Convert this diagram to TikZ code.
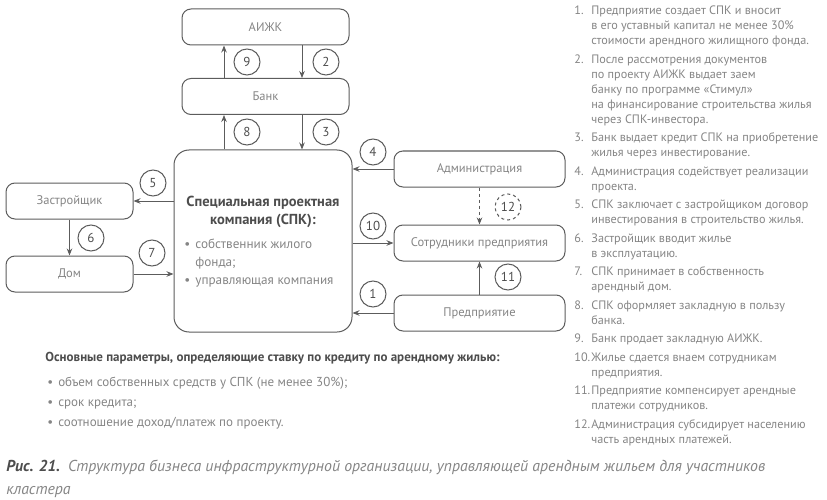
\documentclass[tikz,border=0pt]{standalone}
\usepackage{fontspec}
\setmainfont{PT Sans}
\usepackage{xcolor}
\usetikzlibrary{arrows.meta}

\definecolor{linegray}{HTML}{5C5C5C}
\definecolor{textgray}{HTML}{858585}
\definecolor{darkgray}{HTML}{4D4D4D}

\begin{document}
\begin{tikzpicture}[x=1pt,y=-1pt,->,>={Stealth[length=7pt,width=5.5pt]},
            line width=0.8pt,draw=linegray]
        \tikzstyle{entity}=[draw=linegray,line width=1pt,rounded corners=9pt,
            minimum width=167pt,minimum height=36pt,inner sep=0pt,
            text=textgray,font=\fontsize{12.5}{14}\selectfont]
        \tikzstyle{numcirc}=[draw=linegray,line width=1pt,circle,minimum size=26pt,
            inner sep=0pt,text=darkgray,font=\fontsize{13}{14}\selectfont]
        \tikzstyle{listtext}=[inner sep=0pt,text=textgray,
            font=\fontsize{12.2}{15}\selectfont]

        \useasboundingbox (0,0) rectangle (827,500);

        % boxes
        \node[entity] (aijk) at (265.5,27) {АИЖК};
        \node[entity] (bank) at (265.5,96.5) {Банк};
        \node[entity,minimum width=178pt,minimum height=182pt,rounded corners=15pt]
            (spk) at (263,241) {};
        \node[entity,minimum width=127pt] (builder) at (69.5,201) {Застройщик};
        \node[entity,minimum width=127pt] (house) at (69.5,274) {Дом};
        \node[entity,minimum width=171pt] (admin) at (479.5,169) {Администрация};
        \node[entity,minimum width=171pt] (staff) at (479.5,243) {Сотрудники предприятия};
        \node[entity,minimum width=171pt] (firm) at (479.5,313) {Предприятие};

        % text inside the SPK box
        \node[inner sep=0pt,align=center,text=darkgray,
            font=\bfseries\fontsize{14.5}{18}\selectfont] (spktitle) at (263,212)
            {Специальная проектная\\компания (СПК):};
        \node[listtext,anchor=base west,font=\fontsize{13.2}{18}\selectfont] (spklist) at (184,248)
            {\begin{tabular}[t]{@{}l@{\hspace{5pt}}l@{}}
             \textbullet & собственник жилого\\
                         & фонда;\\
             \textbullet & управляющая компания
             \end{tabular}};

        % connectors
        \draw[->] ([xshift=-41.5pt]bank.north) -- ([xshift=-41.5pt]aijk.south);
        \draw[->] ([xshift=36.5pt]aijk.south) -- ([xshift=36.5pt]bank.north);
        \draw[->] ([xshift=-39pt]spk.north) -- ([xshift=-41.5pt]bank.south);
        \draw[->] ([xshift=36.5pt]bank.south) -- ([xshift=39pt]spk.north);
        \draw[->] (admin.west) -- (admin.west -| spk.east);
        \draw[->] (spk.east |- staff.west) -- (staff.west);
        \draw[->] (firm.west) -- (firm.west -| spk.east);
        \draw[->] (spk.west |- builder.east) -- (builder.east);
        \draw[->] (house.east) -- (house.east -| spk.west);
        \draw[->] (builder.south) -- (house.north);
        \draw[->,dashed] (admin.south) -- (staff.north);
        \draw[->] (firm.north) -- (staff.south);

        % step numbers
        \node[numcirc] (n1) at (373,294) {1};
        \node[numcirc] (n2) at (326,62) {2};
        \node[numcirc] (n3) at (326,132) {3};
        \node[numcirc] (n4) at (373,152) {4};
        \node[numcirc] (n5) at (153,183) {5};
        \node[numcirc] (n6) at (91,238) {6};
        \node[numcirc] (n7) at (152,253) {7};
        \node[numcirc] (n8) at (247,132) {8};
        \node[numcirc] (n9) at (247,62) {9};
        \node[numcirc] (n10) at (373,226) {10};
        \node[numcirc] (n11) at (508,277) {11};
        \node[numcirc,dashed] (n12) at (508,207) {12};

        % legend on the right
        \node[listtext,anchor=base west] (legend) at (574,15)
            {\begin{tabular}[t]{@{}p{17pt}@{}l@{}}
             1. & Предприятие создает СПК и вносит\\
                & в его уставный капитал не менее 30\%\\
                & стоимости арендного жилищного фонда.\\[3.5pt]
             2. & После рассмотрения документов\\
                & по проекту АИЖК выдает заем\\
                & банку по программе «Стимул»\\
                & на финансирование строительства жилья\\
                & через СПК-инвестора.\\[3.5pt]
             3. & Банк выдает кредит СПК на приобретение\\
                & жилья через инвестирование.\\[3.5pt]
             4. & Администрация содействует реализации\\
                & проекта.\\[3.5pt]
             5. & СПК заключает с застройщиком договор\\
                & инвестирования в строительство жилья.\\[3.5pt]
             6. & Застройщик вводит жилье\\
                & в эксплуатацию.\\[3.5pt]
             7. & СПК принимает в собственность\\
                & арендный дом.\\[3.5pt]
             8. & СПК оформляет закладную в пользу\\
                & банка.\\[3.5pt]
             9. & Банк продает закладную АИЖК.\\[3.5pt]
             10. & Жилье сдается внаем сотрудникам\\
                 & предприятия.\\[3.5pt]
             11. & Предприятие компенсирует арендные\\
                 & платежи сотрудников.\\[3.5pt]
             12. & Администрация субсидирует населению\\
                 & часть арендных платежей.
             \end{tabular}};

        % parameters below the scheme
        \node[inner sep=0pt,anchor=base west,text=darkgray,
            font=\bfseries\fontsize{13}{15}\selectfont] (params) at (45,361)
            {Основные параметры, определяющие ставку по кредиту по арендному жилью:};
        \node[listtext,anchor=base west,font=\fontsize{13}{20}\selectfont] (paramlist) at (47,386)
            {\begin{tabular}[t]{@{}l@{\hspace{5pt}}l@{}}
             \textbullet & объем собственных средств у СПК (не менее 30\%);\\
             \textbullet & срок кредита;\\
             \textbullet & соотношение доход/платеж по проекту.
             \end{tabular}};

        % caption
        \node[inner sep=0pt,anchor=base west,text=textgray,
            font=\itshape\fontsize{15.8}{23}\selectfont] (caption) at (6,471)
            {{\bfseries\color{darkgray}Рис. 21.}\enspace Структура бизнеса инфраструктурной организации, управляющей арендным жильем для участников};
        \node[inner sep=0pt,anchor=base west,text=textgray,
            font=\itshape\fontsize{15.8}{23}\selectfont] (captionb) at (6,494)
            {кластера};
\end{tikzpicture}
\end{document}
